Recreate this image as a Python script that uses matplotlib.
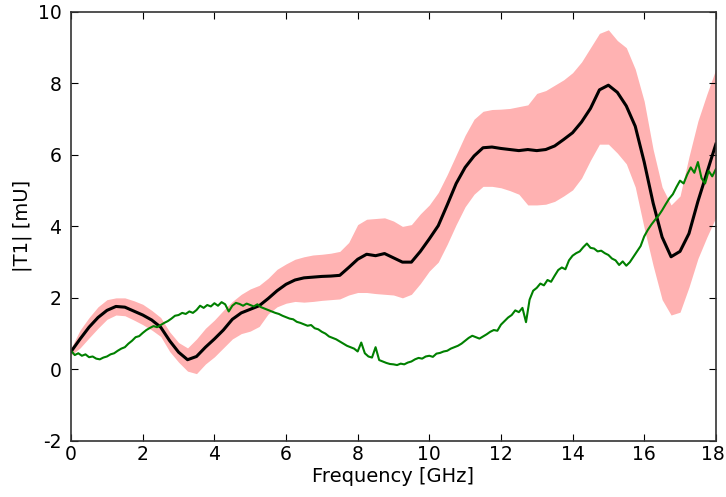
import matplotlib
matplotlib.use('Agg')
import matplotlib.pyplot as plt
import matplotlib.transforms as mtransforms
import numpy as np

plt.rcParams['font.family'] = 'DejaVu Sans'
plt.rcParams['axes.unicode_minus'] = False

# mean |T1| with its spread, sampled every 0.25 GHz
t1_mean = [0.50, 0.85, 1.18, 1.45, 1.65, 1.76, 1.74, 1.63, 1.52, 1.38, 1.18, 0.80,
           0.48, 0.27, 0.36, 0.62, 0.85, 1.10, 1.40, 1.58, 1.68, 1.78, 1.98, 2.20,
           2.38, 2.50, 2.56, 2.58, 2.60, 2.61, 2.63, 2.85, 3.08, 3.22, 3.18, 3.24,
           3.12, 3.00, 3.00, 3.30, 3.65, 4.02, 4.60, 5.20, 5.65, 5.97, 6.20, 6.22,
           6.18, 6.15, 6.12, 6.15, 6.12, 6.15, 6.25, 6.43, 6.62, 6.92, 7.30, 7.82,
           7.95, 7.75, 7.37, 6.80, 5.80, 4.65, 3.70, 3.15, 3.30, 3.80, 4.70, 5.50,
           6.30]
t1_upper = [0.60, 1.10, 1.45, 1.75, 1.95, 2.00, 2.00, 1.92, 1.82, 1.65, 1.45, 1.05,
            0.75, 0.60, 0.85, 1.15, 1.38, 1.65, 1.90, 2.10, 2.25, 2.35, 2.55, 2.80,
            2.95, 3.08, 3.15, 3.20, 3.22, 3.25, 3.30, 3.55, 4.05, 4.20, 4.22, 4.24,
            4.15, 4.00, 4.05, 4.35, 4.60, 4.95, 5.45, 6.00, 6.55, 7.00, 7.22, 7.27,
            7.28, 7.30, 7.35, 7.40, 7.72, 7.80, 7.95, 8.10, 8.30, 8.60, 9.00, 9.40,
            9.50, 9.20, 9.00, 8.40, 7.50, 6.15, 5.10, 4.60, 4.85, 5.95, 6.95, 7.70,
            8.40]
t1_lower = [0.40, 0.60, 0.88, 1.15, 1.40, 1.52, 1.50, 1.38, 1.25, 1.10, 0.92, 0.50,
            0.20, -0.05, -0.12, 0.15, 0.35, 0.60, 0.85, 1.00, 1.07, 1.20, 1.55, 1.75,
            1.85, 1.90, 1.88, 1.90, 1.93, 1.95, 1.97, 2.08, 2.15, 2.15, 2.12, 2.10,
            2.08, 2.00, 2.10, 2.40, 2.75, 3.00, 3.50, 4.05, 4.55, 4.90, 5.12, 5.12,
            5.08, 5.00, 4.90, 4.60, 4.60, 4.62, 4.70, 4.85, 5.02, 5.35, 5.85, 6.30,
            6.30, 6.05, 5.75, 5.10, 3.95, 2.90, 1.95, 1.52, 1.60, 2.30, 3.10, 3.70,
            4.25]

# single measurement, every 0.1 GHz
t1_meas = [0.52, 0.40, 0.45, 0.38, 0.42, 0.34, 0.36, 0.30, 0.28, 0.33,
           0.36, 0.42, 0.45, 0.52, 0.58, 0.62, 0.72, 0.80, 0.90, 0.93,
           1.02, 1.10, 1.16, 1.21, 1.18, 1.24, 1.30, 1.35, 1.42, 1.50,
           1.52, 1.58, 1.55, 1.62, 1.58, 1.66, 1.78, 1.72, 1.80, 1.76,
           1.85, 1.78, 1.88, 1.82, 1.62, 1.78, 1.86, 1.83, 1.78, 1.84,
           1.80, 1.76, 1.82, 1.74, 1.70, 1.66, 1.62, 1.58, 1.55, 1.50,
           1.46, 1.42, 1.40, 1.33, 1.30, 1.26, 1.22, 1.24, 1.15, 1.12,
           1.05, 1.00, 0.92, 0.88, 0.84, 0.78, 0.72, 0.66, 0.62, 0.58,
           0.50, 0.75, 0.45, 0.36, 0.33, 0.62, 0.26, 0.22, 0.18, 0.15,
           0.14, 0.12, 0.16, 0.14, 0.19, 0.22, 0.28, 0.32, 0.30, 0.36,
           0.38, 0.35, 0.44, 0.46, 0.50, 0.52, 0.58, 0.62, 0.66, 0.72,
           0.80, 0.88, 0.94, 0.90, 0.86, 0.92, 0.98, 1.05, 1.10, 1.08,
           1.25, 1.35, 1.45, 1.52, 1.65, 1.60, 1.72, 1.32, 1.95, 2.20,
           2.28, 2.40, 2.35, 2.50, 2.45, 2.62, 2.78, 2.85, 2.80, 3.05,
           3.18, 3.25, 3.30, 3.42, 3.52, 3.40, 3.38, 3.30, 3.32, 3.25,
           3.20, 3.10, 3.05, 2.92, 3.02, 2.90, 3.00, 3.15, 3.30, 3.45,
           3.72, 3.90, 4.05, 4.18, 4.30, 4.45, 4.62, 4.78, 4.90, 5.10,
           5.28, 5.20, 5.45, 5.65, 5.50, 5.80, 5.35, 5.20, 5.55, 5.40,
           5.60]

f_band = np.linspace(0, 18, len(t1_mean))
f_meas = np.linspace(0, 18, len(t1_meas))

fig = plt.figure(figsize=(7.26, 4.97), dpi=100)
ax = fig.add_axes([0.098, 0.113, 0.888, 0.863])

ax.fill_between(f_band, t1_lower, t1_upper, color='r', alpha=0.3, linewidth=0)
ax.plot(f_band, t1_mean, color='k', linewidth=2.2)
ax.plot(f_meas, t1_meas, color='g', linewidth=1.5)

ax.set_xlim(0, 18)
ax.set_ylim(-2, 10)
ax.set_xticks(np.arange(0, 19, 2))
ax.set_yticks(np.arange(-2, 11, 2))
ax.tick_params(direction='in', top=True, right=True, labelsize=13.5, length=5)
ax.tick_params(axis='x', pad=3)
ax.tick_params(axis='y', pad=7)
for s in ax.spines.values():
    s.set_color('#333333')
    s.set_linewidth(1.2)
ax.set_xlabel('Frequency [GHz]', fontsize=14, labelpad=2)
ax.set_ylabel('|T1| [mU]', fontsize=14, labelpad=4)

# nudge the last frequency label so it stays inside the figure
fig.canvas.draw()
last = ax.get_xticklabels()[-1]
last.set_transform(last.get_transform() +
                   mtransforms.ScaledTranslation(-3 / 100, 0, fig.dpi_scale_trans))

fig.savefig('out.png', dpi=100)
